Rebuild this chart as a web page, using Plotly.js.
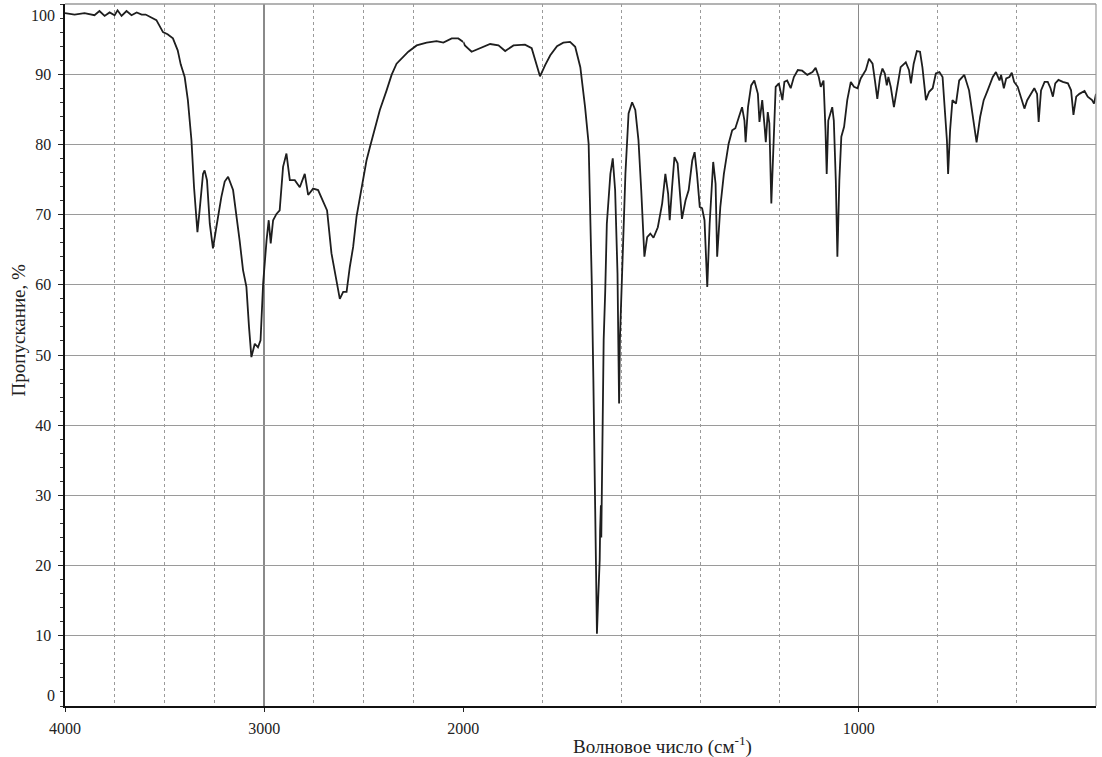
<!DOCTYPE html>
<html>
<head>
<meta charset="utf-8">
<script src="https://cdn.plot.ly/plotly-3.0.1.min.js"></script>
<style>
  html, body { margin: 0; padding: 0; background: #fff; }
  #chart { width: 1102px; height: 757px; }
</style>
</head>
<body>
<div id="chart"></div>
<script>
// Wavenumber (cm-1) and transmittance (%), high-wavenumber part (4000-2000)
var wnHigh = [
  4000,3952,3902,3852,3827,3801,3776,3751,3736,3716,
  3691,3666,3640,3615,3595,3570,3541,3508,3485,3458,
  3434,3419,3399,3383,3365,3352,3340,3335,3324,3307,
  3299,3287,3273,3257,3240,3215,3198,3181,3156,3139,
  3123,3106,3089,3076,3064,3047,3031,3018,3005,2988,
  2977,2967,2955,2938,2922,2905,2888,2871,2846,2821,
  2796,2779,2754,2729,2704,2684,2662,2636,2620,2603,
  2586,2570,2553,2536,2511,2486,2469,2452,2419,2385,
  2360,2335,2310,2276,2234,2184,2134,2100,2058,2025,
  2000
];
var tHigh = [
  98.7,98.5,98.7,98.4,99.0,98.3,98.8,98.4,99.1,98.3,
  99.0,98.4,98.8,98.5,98.5,98.1,97.7,96.0,95.7,95.1,
  93.4,91.4,89.6,86.3,80.6,73.9,68.5,67.5,70.6,75.8,
  76.3,74.9,68.7,65.2,68.2,72.5,74.7,75.4,73.5,70.1,
  66.3,62.1,59.7,54.0,49.7,51.6,51.1,52.1,60.2,66.3,
  69.2,65.9,69.2,70.1,70.6,76.8,78.7,74.9,74.9,73.9,
  75.8,72.8,73.7,73.5,72.0,70.6,64.5,60.6,58.0,59.0,
  59.0,62.5,65.4,69.7,73.9,77.7,79.6,81.5,84.9,87.7,
  89.9,91.5,92.2,93.2,94.1,94.5,94.7,94.5,95.1,95.1,
  94.6
];
// Low-wavenumber part (2000-400), drawn on an expanded scale
var wnLow = [
  2000,1996,1979,1958,1932,1911,1894,1873,1844,1827,
  1814,1806,1793,1780,1763,1747,1730,1717,1704,1692,
  1683,1679,1675,1671,1668,1664,1662,1659,1655,1654,
  1652,1651,1649,1645,1641,1637,1628,1622,1616,1610,
  1608,1606,1604,1600,1595,1590,1582,1573,1565,1557,
  1550,1542,1535,1527,1519,1508,1497,1489,1482,1478,
  1472,1466,1458,1453,1447,1438,1430,1421,1415,1409,
  1402,1396,1390,1383,1377,1368,1362,1358,1350,1341,
  1329,1320,1312,1303,1295,1289,1286,1280,1272,1264,
  1255,1251,1244,1238,1235,1230,1226,1221,1216,1210,
  1202,1193,1188,1181,1172,1164,1154,1143,1130,1117,
  1109,1101,1096,1089,1084,1081,1077,1071,1067,1063,
  1058,1054,1049,1044,1037,1029,1020,1012,1003,995,
  987,982,974,965,959,953,946,940,934,929,
  925,919,911,902,894,881,873,868,861,853,
  845,839,830,822,813,805,796,788,782,777,
  774,769,763,754,746,733,721,708,702,693,
  684,674,661,653,644,640,633,627,619,613,
  607,598,590,581,574,566,556,549,545,539,
  530,522,515,509,503,495,484,471,463,457,
  450,442,429,421,410,405,400
];
var tLow = [
  94.6,94.1,93.2,93.7,94.3,94.1,93.3,94.1,94.2,93.7,
  91.3,89.7,91.3,92.7,94.0,94.5,94.6,93.9,91.0,85.3,
  80.1,72.0,60.2,46.4,32.1,17.9,10.3,15.1,20.8,25.0,
  28.6,24.0,33.6,52.1,59.2,68.7,75.8,78.0,73.5,61.6,
  52.1,43.1,52.1,59.2,66.3,75.8,84.4,86.0,84.9,80.6,
  73.5,64.0,66.8,67.3,66.7,68.2,71.6,75.8,73.0,69.2,
  73.9,78.2,77.3,73.5,69.4,72.0,73.5,77.7,78.9,75.8,
  71.1,70.9,69.2,59.7,68.7,77.5,74.4,64.0,71.1,75.8,
  80.1,82.0,82.3,83.9,85.3,83.4,80.3,85.3,88.4,89.1,
  87.2,83.2,86.3,82.5,80.3,84.6,83.0,71.6,80.6,88.2,
  88.7,86.3,88.9,89.1,88.0,89.6,90.6,90.5,89.9,90.3,
  90.9,89.6,88.2,89.1,82.0,75.8,83.4,84.4,85.3,83.4,
  74.9,64.0,74.9,81.1,82.5,86.3,88.9,88.2,88.0,89.4,
  90.1,90.6,92.2,91.5,89.1,86.5,89.6,90.8,90.1,88.4,
  89.6,88.2,85.3,88.7,91.0,91.7,90.6,88.7,91.5,93.3,
  93.2,91.0,86.3,87.5,88.0,90.1,90.3,89.6,85.3,80.6,
  75.8,82.0,86.3,85.8,89.1,89.9,87.7,82.5,80.3,83.9,
  86.3,87.7,89.6,90.3,89.1,89.9,88.0,89.4,89.6,90.2,
  88.9,88.2,86.8,85.1,86.3,87.0,88.0,87.2,83.2,87.7,
  88.9,88.9,88.0,86.8,88.7,89.2,88.9,88.7,87.7,84.2,
  86.8,87.2,87.6,86.8,86.3,85.8,87.2
];

var xTickHigh = [4000, 3000, 2000];
var xTickLow = [1000];
// gridded y ticks
var yGridTicks = [10, 20, 30, 40, 50, 60, 70, 80, 90];
// end labels "0" and "100" sit slightly inside the frame in the reference
var yEndTickPos = [1.55, 98.35];
var yEndTickText = ['0', '100'];

var xTitle = 'Волновое число (см<sup>-1</sup>)';
var yTitle = 'Пропускание, %';

var FONT = 'Liberation Serif';
var lineStyle = { color: '#1e1e1e', width: 1.8 };

var traces = [
  { x: wnHigh, y: tHigh, xaxis: 'x', yaxis: 'y', type: 'scatter', mode: 'lines',
    line: lineStyle, hoverinfo: 'x+y' },
  { x: wnLow, y: tLow, xaxis: 'x2', yaxis: 'y', type: 'scatter', mode: 'lines',
    line: lineStyle, hoverinfo: 'x+y' }
];

var split = 0.3863;
var commonX = {
  anchor: 'y', tickmode: 'array', ticks: 'outside', ticklen: 4, tickcolor: '#222',
  ticklabelstandoff: 3,
  showgrid: true, gridcolor: '#8a8a8a', gridwidth: 1.3,
  showline: true, linecolor: '#111', linewidth: 2, zeroline: false,
  tickfont: { family: FONT, size: 16, color: '#222' }
};

var annotations = [
  { text: xTitle, xref: 'paper', yref: 'paper', x: 0.58, y: 0,
    xanchor: 'center', yanchor: 'middle', yshift: -39, showarrow: false,
    font: { family: FONT, size: 19, color: '#222' } },
  { text: yTitle, xref: 'paper', yref: 'paper', x: 0, y: 0.535,
    xanchor: 'center', yanchor: 'middle', xshift: -47, textangle: -90, showarrow: false,
    font: { family: FONT, size: 19, color: '#222' } }
];
for (var i = 0; i < yEndTickPos.length; i++) {
  annotations.push({ text: yEndTickText[i], xref: 'paper', yref: 'y', x: 0, y: yEndTickPos[i],
    xanchor: 'right', yanchor: 'middle', xshift: -8, showarrow: false,
    font: { family: FONT, size: 16, color: '#222' } });
}

var layout = {
  width: 1102, height: 757,
  margin: { l: 65, r: 6, t: 4, b: 51 },
  paper_bgcolor: '#ffffff', plot_bgcolor: '#ffffff',
  showlegend: false,
  font: { family: FONT, size: 16, color: '#222' },
  xaxis: Object.assign({}, commonX, {
    domain: [0, split], range: [4000, 2000],
    tickvals: xTickHigh, ticktext: xTickHigh.map(String),
    minor: { tickmode: 'linear', tick0: 2000, dtick: 250, showgrid: true,
             gridcolor: '#9a9a9a', griddash: 'dot', gridwidth: 1, ticks: '' }
  }),
  xaxis2: Object.assign({}, commonX, {
    domain: [split, 1], range: [2000, 400],
    tickvals: xTickLow, ticktext: xTickLow.map(String),
    minor: { tickmode: 'linear', tick0: 400, dtick: 200, showgrid: true,
             gridcolor: '#9a9a9a', griddash: 'dot', gridwidth: 1, ticks: '' }
  }),
  yaxis: {
    anchor: 'x', range: [0, 100], tickmode: 'array',
    tickvals: yGridTicks, ticktext: yGridTicks.map(String),
    ticks: 'outside', ticklen: 5, tickcolor: '#222', ticklabelstandoff: 4,
    minor: { tickmode: 'linear', tick0: 0, dtick: 2, ticks: 'outside', ticklen: 3,
             tickcolor: '#333', showgrid: false },
    showgrid: true, gridcolor: '#9a9a9a', gridwidth: 1,
    showline: true, linecolor: '#111', linewidth: 1.6, zeroline: false,
    tickfont: { family: FONT, size: 16, color: '#222' }
  },
  shapes: [
    { type: 'line', xref: 'paper', yref: 'paper', x0: 0, x1: 1, y0: 1, y1: 1,
      line: { color: '#9a9a9a', width: 1.5 } },
    { type: 'line', xref: 'paper', yref: 'paper', x0: 1, x1: 1, y0: 0, y1: 1,
      line: { color: '#9a9a9a', width: 1.2 } }
  ],
  annotations: annotations
};

Plotly.newPlot('chart', traces, layout, { staticPlot: true, displayModeBar: false });
</script>
</body>
</html>
